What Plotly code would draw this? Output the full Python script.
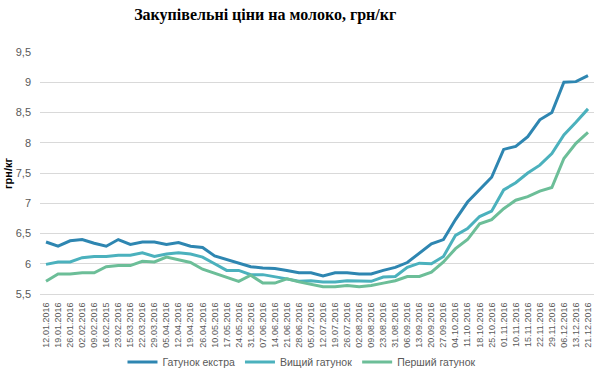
import plotly.graph_objects as go

dates = ["12.01.2016", "19.01.2016", "26.01.2016", "02.02.2016", "09.02.2016", "16.02.2015",
         "23.02.2016", "15.03.2016", "22.03.2016", "29.03.2016", "05.04.2016", "12.04.2016",
         "19.04.2016", "26.04.2016", "10.05.2016", "17.05.2016", "24.05.2016", "31.05.2016",
         "07.06.2016", "14.06.2016", "21.06.2016", "28.06.2016", "05.07.2016", "12.07.2016",
         "19.07.2016", "26.07.2016", "02.08.2016", "09.08.2016", "23.08.2016", "31.08.2016",
         "06.09.2016", "13.09.2016", "20.09.2016", "27.09.2016", "04.10.2016", "11.10.2016",
         "18.10.2016", "25.10.2016", "01.11.2016", "10.11.2016", "15.11.2016", "22.11.2016",
         "29.11.2016", "06.12.2016", "13.12.2016", "21.12.2016"]

extra = [6.36, 6.29, 6.38, 6.40, 6.34, 6.29, 6.40, 6.32, 6.36, 6.36, 6.32, 6.35,
         6.29, 6.27, 6.13, 6.07, 6.02, 5.95, 5.93, 5.92, 5.89, 5.85, 5.85, 5.80,
         5.85, 5.85, 5.83, 5.83, 5.89, 5.94, 6.02, 6.17, 6.33, 6.40, 6.73, 7.02,
         7.23, 7.43, 7.89, 7.94, 8.10, 8.38, 8.50, 9.00, 9.01, 9.11]

higher = [5.99, 6.03, 6.03, 6.10, 6.12, 6.12, 6.14, 6.14, 6.18, 6.12, 6.16, 6.18,
          6.16, 6.11, 6.00, 5.89, 5.89, 5.82, 5.82, 5.79, 5.75, 5.71, 5.72, 5.70,
          5.70, 5.72, 5.71, 5.71, 5.78, 5.79, 5.94, 6.01, 6.00, 6.12, 6.47, 6.58,
          6.78, 6.87, 7.22, 7.34, 7.50, 7.63, 7.82, 8.13, 8.34, 8.56]

first = [5.71, 5.83, 5.83, 5.85, 5.85, 5.95, 5.97, 5.97, 6.04, 6.03, 6.11, 6.06,
         6.02, 5.91, 5.84, 5.78, 5.71, 5.81, 5.68, 5.68, 5.75, 5.70, 5.66, 5.62,
         5.62, 5.64, 5.62, 5.64, 5.68, 5.72, 5.79, 5.79, 5.86, 6.03, 6.25, 6.40,
         6.66, 6.73, 6.91, 7.05, 7.11, 7.20, 7.26, 7.74, 7.99, 8.17]

series_names = ["Гатунок екстра", "Вищий гатунок", "Перший гатунок"]
colors = ["#2E86B1", "#4BB1BD", "#6CBE98"]

y_vals = [5.5, 6, 6.5, 7, 7.5, 8, 8.5, 9, 9.5]
y_text = ["5,5", "6", "6,5", "7", "7,5", "8", "8,5", "9", "9,5"]

fig = go.Figure()
for name, vals, col in zip(series_names, [extra, higher, first], colors):
    fig.add_trace(go.Scatter(x=list(range(len(dates))), y=vals, mode="lines", name=name,
                             line=dict(color=col, width=3)))

fig.update_layout(
    width=600, height=391,
    paper_bgcolor="white", plot_bgcolor="white",
    margin=dict(l=40, r=6, t=52, b=97, autoexpand=False),
    title=dict(text="<b>Закупівельні ціни на молоко, грн/кг</b>",
               x=0.442, xanchor="center", y=0.962, yanchor="middle",
               font=dict(family="Liberation Serif", size=16, color="black")),
    font=dict(family="Liberation Sans", color="#595959"),
    showlegend=True,
    legend=dict(orientation="h", x=0.472, xanchor="center", yref="container",
                y=0.074, yanchor="middle", font=dict(size=10.5, color="#595959"),
                bgcolor="rgba(0,0,0,0)", itemwidth=30, tracegroupgap=0),
    xaxis=dict(range=[-0.5, 45.5], tickmode="array",
               tickvals=list(range(len(dates))), ticktext=dates, tickangle=-90,
               tickfont=dict(size=9, color="#595959"), showgrid=False,
               showline=True, linecolor="#d9d9d9", linewidth=1, automargin=False,
               ticks="", ticklabelstandoff=4, zeroline=False),
    yaxis=dict(range=[5.5, 9.5], tickvals=y_vals, ticktext=y_text,
               tickfont=dict(size=11, color="#595959"), automargin=False,
               showgrid=True, gridcolor="#d9d9d9", gridwidth=1,
               zeroline=False, ticks="", ticklabelstandoff=8),
    annotations=[dict(text="<b>грн/кг</b>", xref="paper", yref="paper",
                      x=-40/554, xanchor="left", y=0.5, yanchor="middle",
                      textangle=-90, showarrow=False,
                      font=dict(size=11, color="black", family="Liberation Sans"))],
)

fig.write_html("out.html", config={"displayModeBar": False},
               post_script="document.body.style.margin='0';")
